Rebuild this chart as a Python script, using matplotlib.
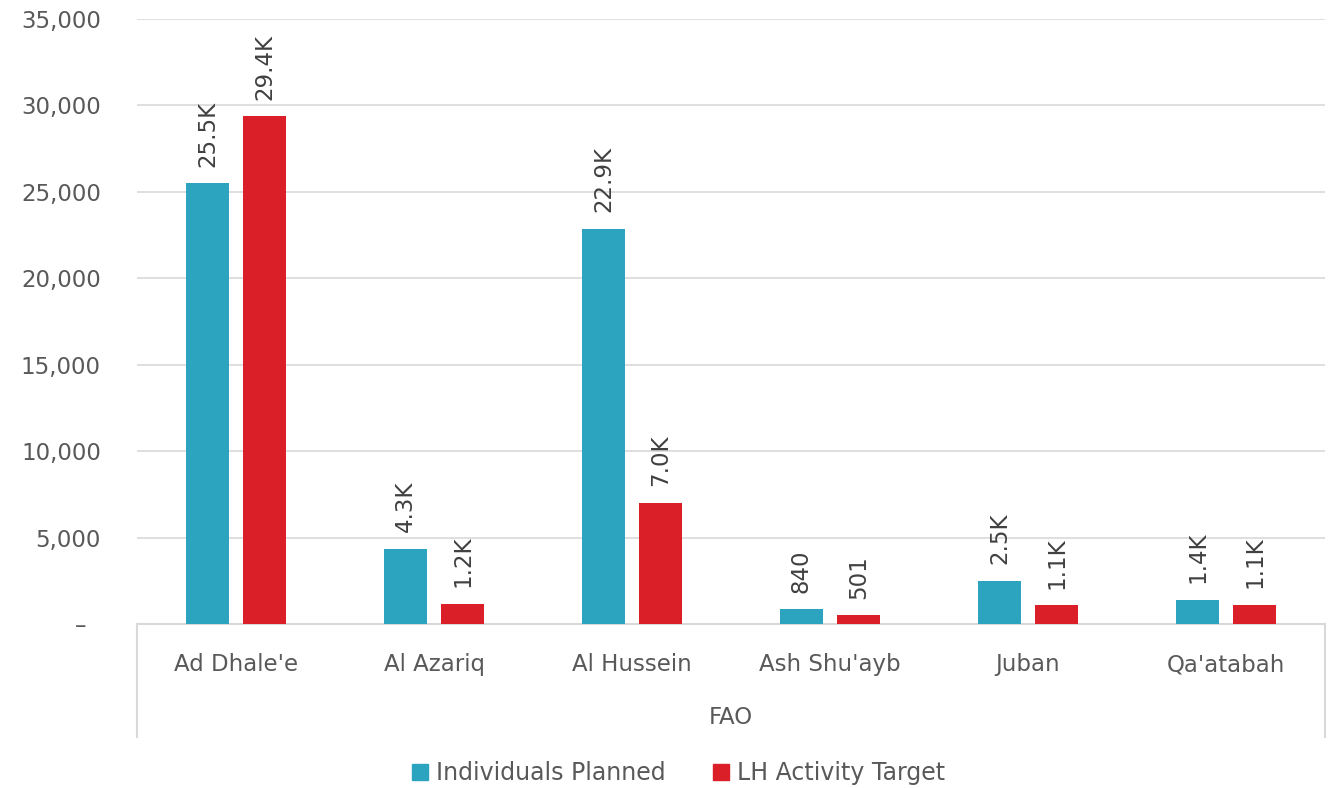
import numpy as np
import matplotlib.pyplot as plt
from matplotlib.lines import Line2D
from matplotlib.patches import Patch

districts = ["Ad Dhale'e", "Al Azariq", "Al Hussein", "Ash Shu'ayb", "Juban", "Qa'atabah"]
group_label = "FAO"
individuals_planned = [25500, 4330, 22880, 840, 2480, 1400]
lh_activity_target = [29370, 1180, 7000, 501, 1080, 1100]
series_names = ["Individuals Planned", "LH Activity Target"]
colors = ["#2ca3bf", "#db1f29"]
yticks = [0, 5000, 10000, 15000, 20000, 25000, 30000, 35000]
ytick_labels = ["–  ", "5,000", "10,000", "15,000", "20,000", "25,000", "30,000", "35,000"]

text_color = "#595959"
grid_color = "#d9d9d9"
fs = 16.5


def fmt(v):
    # short labels like the source dashboard: 25.5K, 840
    if v >= 1000:
        return f"{v / 1000:.1f}K"
    return f"{v:,.0f}"


fig = plt.figure(figsize=(13.35, 7.88), dpi=100)
ax = fig.add_axes([137 / 1335, 1 - 624 / 788, (1325 - 137) / 1335, (624 - 19) / 788])

x = np.arange(len(districts))
width = 0.222
offset = 0.144
for vals, name, col, off in zip([individuals_planned, lh_activity_target], series_names, colors, [-offset, offset]):
    bars = ax.bar(x + off, vals, width, color=col, label=name, zorder=3)
    for b, v in zip(bars, vals):
        ax.annotate(fmt(v), (b.get_x() + b.get_width() / 2, v), xytext=(0, 12),
                    textcoords="offset points", rotation=90, ha="center", va="bottom",
                    fontsize=fs, color="#404040")

ax.set_xlim(-0.5, len(districts) - 0.5)
ax.set_ylim(0, 35000)
ax.set_yticks(yticks)
ax.set_yticklabels(ytick_labels)
ax.tick_params(axis="y", length=0, labelsize=fs, labelcolor=text_color, pad=26)
ax.tick_params(axis="x", length=0, labelsize=fs, labelcolor=text_color, pad=21)
ax.set_xticks(x)
ax.set_xticklabels(districts)

ax.grid(axis="y", color=grid_color, linewidth=1.2, zorder=0)
for s in ["top", "right", "left"]:
    ax.spines[s].set_visible(False)
ax.spines["bottom"].set_color(grid_color)
ax.spines["bottom"].set_linewidth(1.5)

# group box below categories
for xx in [-0.5, len(districts) - 0.5]:
    ax.add_line(Line2D([xx, xx], [0, -0.187], transform=ax.get_xaxis_transform(),
                       color=grid_color, linewidth=1.5, clip_on=False))
ax.text((len(districts) - 1) / 2, -0.154, group_label, transform=ax.get_xaxis_transform(),
        ha="center", va="center", fontsize=fs, color=text_color)

handles = [Patch(color=c, label=n) for c, n in zip(colors, series_names)]
fig.legend(handles=handles, loc="center", bbox_to_anchor=(0.5 + 11 / 1335, 1 - 773 / 788), ncol=2,
           frameon=False, fontsize=17, handlelength=0.68, handleheight=0.68,
           handletextpad=0.35, columnspacing=2.0, labelcolor=text_color)

fig.savefig("out.png", dpi=100)
